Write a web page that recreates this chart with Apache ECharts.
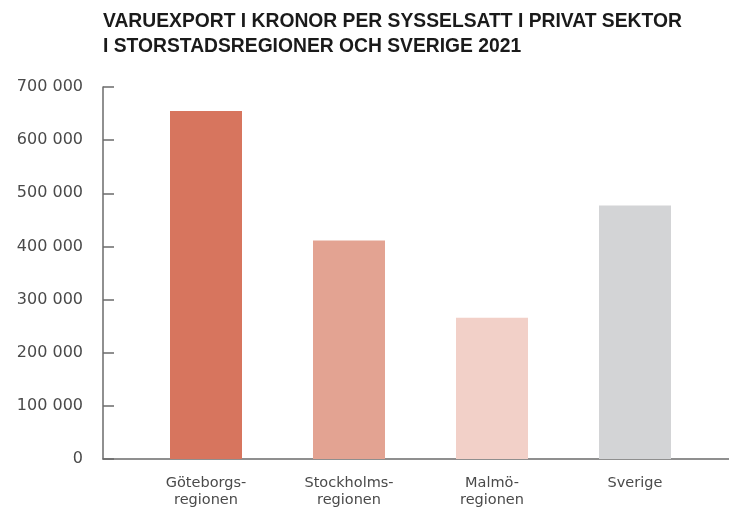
<html>
<head>
    <meta charset="utf-8">
    <title>Varuexport per sysselsatt</title>
    <style type="text/css">
        body { margin: 0; background: #fff; }
        #chart { width: 729px; height: 509px; }
    </style>
</head>
<body>
    <div id="chart"></div>
</body>
</html>

<script src="https://cdn.jsdelivr.net/npm/echarts@6/dist/echarts.min.js"></script>
<script>

    var regions = ['Göteborgs-\nregionen', 'Stockholms-\nregionen', 'Malmö-\nregionen', 'Sverige'];
    var exportPerEmployed = [655000, 411000, 266000, 477000];
    var barColors = ['#d7755e', '#e3a392', '#f2d0c8', '#d3d4d6'];
    var yTicks = [0, 100000, 200000, 300000, 400000, 500000, 600000, 700000];

    var axisColor = '#6b6b6b';
    var labelColor = '#4a4a4a';

    function fmt(v) {
        return String(v).replace(/\B(?=(\d{3})+(?!\d))/g, ' ');
    }

    var chart = echarts.init(document.getElementById('chart'));

    var option = {
        backgroundColor: '#fff',
        animation: false,
        title: {
            text: 'VARUEXPORT I KRONOR PER SYSSELSATT I PRIVAT SEKTOR\nI STORSTADSREGIONER OCH SVERIGE 2021',
            left: 98,
            top: 4,
            textStyle: {
                fontFamily: 'Liberation Sans',
                fontWeight: 'bold',
                fontSize: 19.3,
                lineHeight: 25,
                color: '#1a1a1a'
            }
        },
        grid: [
            { left: 134.5, right: 22.5, top: 87, bottom: 50, outerBoundsMode: 'none' },
            { left: 103, right: 0, top: 87, bottom: 50, outerBoundsMode: 'none' }
        ],
        xAxis: [{
            type: 'category',
            gridIndex: 0,
            data: regions,
            axisLine: { show: false },
            axisTick: { show: false },
            axisLabel: {
                margin: 16,
                fontFamily: 'DejaVu Sans',
                fontSize: 14.5,
                lineHeight: 17,
                color: labelColor
            }
        }, {
            type: 'value',
            gridIndex: 1,
            axisLine: { show: true, lineStyle: { color: axisColor, width: 1.5 } },
            axisTick: { show: false },
            axisLabel: { show: false },
            splitLine: { show: false }
        }],
        yAxis: [{
            type: 'value',
            gridIndex: 0,
            min: yTicks[0],
            max: yTicks[yTicks.length - 1],
            interval: yTicks[1] - yTicks[0],
            offset: 31.5,
            axisLine: { show: true, lineStyle: { color: axisColor, width: 1.5 } },
            axisTick: { show: true, inside: true, length: 11, lineStyle: { color: axisColor, width: 1.5 } },
            splitLine: { show: false },
            axisLabel: {
                margin: 20,
                fontFamily: 'DejaVu Sans',
                fontSize: 16,
                color: labelColor,
                formatter: fmt
            }
        }, {
            type: 'value',
            gridIndex: 1,
            show: false
        }],
        series: [{
            type: 'bar',
            xAxisIndex: 0,
            yAxisIndex: 0,
            barWidth: 72,
            data: exportPerEmployed.map(function (v, i) {
                return { value: v, itemStyle: { color: barColors[i] } };
            })
        }]
    };

    chart.setOption(option);

</script>
